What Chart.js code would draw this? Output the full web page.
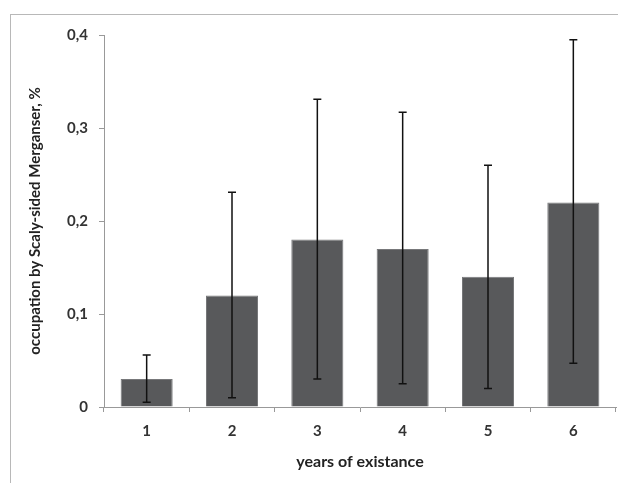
<!DOCTYPE html>
<html>
<head>
<meta charset="utf-8">
<script src="https://cdn.jsdelivr.net/npm/chart.js@4"></script>
<style>
  html, body { margin: 0; padding: 0; background: #fff; }
  #wrap { position: relative; width: 618px; height: 483px; overflow: hidden; }
  #frame { position: absolute; left: 10px; top: 14px; width: 700px; height: 600px; border: 1px solid #b8b8b8; }
  canvas { position: absolute; left: 0; top: 0; }
</style>
</head>
<body>
<div id="wrap">
  <div id="frame"></div>
  <canvas id="chart" width="618" height="483"></canvas>
</div>
<script>
  // valores
  var years = ['1', '2', '3', '4', '5', '6'];
  var occupation = [0.03, 0.12, 0.18, 0.17, 0.14, 0.22];
  var errLow = [0.005, 0.010, 0.030, 0.025, 0.020, 0.047];
  var errHigh = [0.056, 0.231, 0.331, 0.317, 0.260, 0.395];
  var yTickLabels = ['0', '0,1', '0,2', '0,3', '0,4'];

  // barras de erro desenhadas com as escalas do gráfico
  var errorBars = {
    id: 'errorBars',
    afterDatasetsDraw: function (chart) {
      var ctx = chart.ctx;
      var meta = chart.getDatasetMeta(0);
      var y = chart.scales.y;
      ctx.save();
      ctx.strokeStyle = '#111';
      ctx.lineWidth = 1.5;
      meta.data.forEach(function (bar, i) {
        var x = bar.x;
        var top = y.getPixelForValue(errHigh[i]);
        var bottom = y.getPixelForValue(errLow[i]);
        ctx.beginPath();
        ctx.moveTo(x, top); ctx.lineTo(x, bottom);
        ctx.moveTo(x - 4, top); ctx.lineTo(x + 4, top);
        ctx.moveTo(x - 4, bottom); ctx.lineTo(x + 4, bottom);
        ctx.stroke();
      });
      ctx.restore();
    }
  };

  var ctx = document.getElementById('chart').getContext('2d');
  var chart = new Chart(ctx, {
    type: 'bar',
    data: {
      labels: years,
      datasets: [{
        data: occupation,
        backgroundColor: '#58595b',
        borderColor: '#77787a',
        borderWidth: 1,
        barPercentage: 0.61,
        categoryPercentage: 1
      }]
    },
    options: {
      responsive: false,
      animation: false,
      layout: { padding: { top: 35, right: 2, left: 0, bottom: 0 } },
      plugins: { legend: { display: false }, tooltip: { enabled: false } },
      scales: {
        x: {
          grid: { drawOnChartArea: false, drawTicks: true, tickLength: 5, color: '#999', offset: true },
          border: { display: true, color: '#999' },
          ticks: { color: '#333', font: { family: 'Lato', size: 15, weight: 'bold' }, padding: 10 },
          title: { display: true, text: 'years of existance', color: '#222', font: { family: 'Lato', size: 16, weight: 'bold' }, padding: { top: 0, bottom: 12 } },
          afterFit: function (scale) { scale.height = 76; }
        },
        y: {
          min: 0,
          max: 0.4,
          ticks: {
            stepSize: 0.1,
            color: '#333',
            font: { family: 'Lato', size: 15, weight: 'bold' },
            padding: 11,
            callback: function (v, i) { return yTickLabels[i]; }
          },
          grid: { drawOnChartArea: false, drawTicks: true, tickLength: 5, color: '#999' },
          border: { display: true, color: '#999' },
          title: { display: true, text: 'occupation by Scaly-sided Merganser, %', color: '#222', font: { family: 'Lato', size: 15, weight: 'bold' }, padding: { top: 26, bottom: 0 } },
          afterFit: function (scale) { scale.width = 104; }
        }
      }
    },
    plugins: [errorBars]
  });
</script>
</body>
</html>
